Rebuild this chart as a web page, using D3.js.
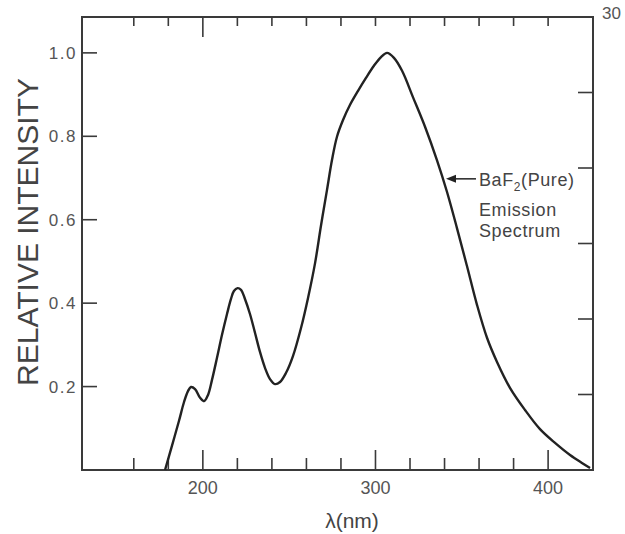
<!DOCTYPE html>
<html>
<head>
<meta charset="utf-8">
<script src="https://cdn.jsdelivr.net/npm/d3@7/dist/d3.min.js"></script>
<style>
  html, body { margin: 0; padding: 0; background: #fff; }
  svg { display: block; }
  text { font-family: "Liberation Sans", Arial, sans-serif; }
</style>
</head>
<body>
<svg id="chart" width="625" height="534"></svg>
<script>
// ---- data ----
const wavelength = [178.1, 182.1, 186.2, 189.1, 191.4, 193.1, 195.5, 198.4, 200.7, 203.0, 205.3, 208.2, 211.1, 214.0, 216.3, 218.0, 220.1, 222.1, 224.4, 227.3, 230.2, 233.1, 236.0, 238.9, 241.8, 244.7, 248.2, 252.2, 256.9, 260.9, 265.0, 268.4, 271.9, 274.8, 277.7, 281.2, 285.2, 289.9, 294.5, 299.1, 303.2, 306.7, 310.7, 315.4, 321.7, 328.7, 335.6, 341.4, 347.2, 353.0, 358.8, 364.6, 370.4, 377.9, 386.6, 395.3, 404.0, 412.7, 419.6, 424.3];
const intensity  = [0.0, 0.058, 0.118, 0.163, 0.189, 0.199, 0.194, 0.173, 0.165, 0.180, 0.216, 0.269, 0.324, 0.374, 0.410, 0.429, 0.436, 0.432, 0.410, 0.374, 0.329, 0.283, 0.245, 0.218, 0.206, 0.211, 0.233, 0.273, 0.341, 0.412, 0.496, 0.585, 0.671, 0.743, 0.799, 0.839, 0.875, 0.909, 0.940, 0.969, 0.990, 1.0, 0.988, 0.957, 0.894, 0.823, 0.743, 0.667, 0.580, 0.489, 0.396, 0.317, 0.259, 0.197, 0.144, 0.098, 0.065, 0.036, 0.017, 0.005];

const xTicks = [160, 180, 200, 220, 240, 260, 280, 300, 320, 340, 360, 380, 400];
const xMajor = [200, 300, 400];
const xTickLabels = ["200", "300", "400"];
const yTicks = [0.2, 0.4, 0.6, 0.8, 1.0];
const yTickLabels = ["0.2", "0.4", "0.6", "0.8", "1.0"];
const rightTicks = [5, 10, 15, 20, 25];
const rightTopLabel = "30";
const xTitle = "λ(nm)";
const yTitle = "RELATIVE INTENSITY";
const annotation = ["Emission", "Spectrum"];
const arrowAt = [339.1, 0.698];

// ---- layout ----
const L = 82, R = 593, T = 17, B = 470;
const svg = d3.select("#chart");
const x = d3.scaleLinear().domain([130, 426]).range([L, R]);
const y = d3.scaleLinear().domain([0, 1.086]).range([B, T]);
const yR = d3.scaleLinear().domain([0, 30]).range([B, T]);

const axisColor = "#3a3a3a";
const textColor = "#555";

// frame
svg.append("rect").attr("x", L).attr("y", T).attr("width", R - L).attr("height", B - T)
  .attr("fill", "none").attr("stroke", axisColor).attr("stroke-width", 2);

// bottom ticks (inward)
svg.append("g").selectAll("line").data(xTicks).join("line")
  .attr("x1", d => x(d)).attr("x2", d => x(d))
  .attr("y1", B).attr("y2", d => B - (xMajor.includes(d) ? 20 : 12))
  .attr("stroke", axisColor).attr("stroke-width", 1.6);
// top ticks (inward)
svg.append("g").selectAll("line").data(xTicks).join("line")
  .attr("x1", d => x(d)).attr("x2", d => x(d))
  .attr("y1", T).attr("y2", d => T + (d === 200 ? 20 : 9))
  .attr("stroke", axisColor).attr("stroke-width", 1.6);
// bottom labels
svg.append("g").selectAll("text").data(xMajor).join("text")
  .attr("x", d => x(d)).attr("y", 494)
  .attr("text-anchor", "middle").attr("font-size", 18).attr("fill", textColor)
  .text((d, i) => xTickLabels[i]);

// left ticks
svg.append("g").selectAll("line").data(yTicks).join("line")
  .attr("x1", L).attr("x2", L + 15)
  .attr("y1", d => y(d)).attr("y2", d => y(d))
  .attr("stroke", axisColor).attr("stroke-width", 1.6);
svg.append("g").selectAll("text").data(yTicks).join("text")
  .attr("x", 77).attr("y", d => y(d) + 6)
  .attr("text-anchor", "end").attr("font-size", 17).attr("fill", textColor)
  .attr("letter-spacing", 1.5)
  .text((d, i) => yTickLabels[i]);

// right ticks
svg.append("g").selectAll("line").data(rightTicks).join("line")
  .attr("x1", R).attr("x2", R - 15)
  .attr("y1", d => yR(d)).attr("y2", d => yR(d))
  .attr("stroke", axisColor).attr("stroke-width", 1.6);
svg.append("text").attr("x", 602).attr("y", 19)
  .attr("font-size", 17).attr("fill", textColor).text(rightTopLabel);

// axis titles
svg.append("text").attr("x", 352).attr("y", 528)
  .attr("text-anchor", "middle").attr("font-size", 21).attr("fill", "#444").text(xTitle);
svg.append("text")
  .attr("transform", "translate(38,232) rotate(-90)")
  .attr("text-anchor", "middle").attr("font-size", 30).attr("fill", "#444").text(yTitle);

// curve
const pts = wavelength.map((w, i) => [w, intensity[i]]);
const line = d3.line().x(d => x(d[0])).y(d => y(d[1])).curve(d3.curveCatmullRom.alpha(0.5));
svg.append("path").datum(pts).attr("d", line)
  .attr("fill", "none").attr("stroke", "#222").attr("stroke-width", 2.4);

// annotation
const ax = x(arrowAt[0]) + 3, ay = y(arrowAt[1]);
svg.append("line").attr("x1", ax + 4).attr("x2", ax + 30).attr("y1", ay).attr("y2", ay)
  .attr("stroke", "#222").attr("stroke-width", 1.5);
svg.append("path").attr("d", `M${ax},${ay} L${ax + 10},${ay - 4} L${ax + 10},${ay + 4} Z`).attr("fill", "#222");
const t1 = svg.append("text").attr("x", ax + 33).attr("y", ay + 7).attr("font-size", 18)
  .attr("letter-spacing", 0.6).attr("fill", "#444");
t1.append("tspan").text("BaF");
t1.append("tspan").attr("font-size", 12).attr("dy", 5).text("2");
t1.append("tspan").attr("dy", -5).text("(Pure)");
svg.append("g").selectAll("text").data(annotation).join("text")
  .attr("x", ax + 33).attr("y", (d, i) => ay + 37 + i * 21)
  .attr("font-size", 18).attr("letter-spacing", 0.6).attr("fill", "#444").text(d => d);
</script>
</body>
</html>
